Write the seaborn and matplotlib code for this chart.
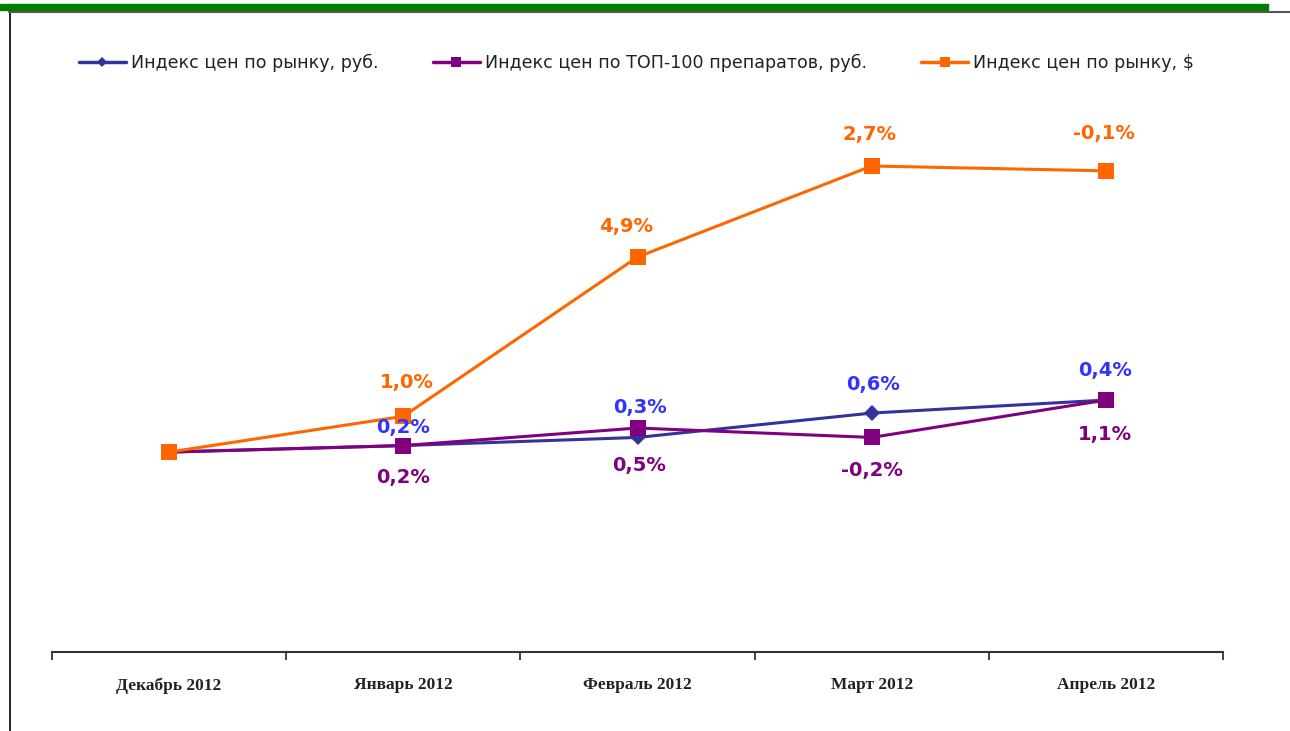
import matplotlib
matplotlib.use('Agg')
import matplotlib.pyplot as plt
import seaborn as sns
import pandas as pd
import numpy as np
from matplotlib.lines import Line2D
from matplotlib.patches import Rectangle

# months on the x axis
months = ['Декабрь 2012', 'Январь 2012', 'Февраль 2012', 'Март 2012', 'Апрель 2012']

# index level (Dec = 100)
market_rub = [100.0, 100.2, 100.45, 101.2, 101.6]
top100_rub = [100.0, 100.2, 100.74, 100.45, 101.6]
market_usd = [100.0, 101.1, 106.0, 108.8, 108.65]

# month-on-month change labels
market_rub_lbl = ['', '0,2%', '0,3%', '0,6%', '0,4%']
top100_rub_lbl = ['', '0,2%', '0,5%', '-0,2%', '1,1%']
market_usd_lbl = ['', '1,0%', '4,9%', '2,7%', '-0,1%']

names = ['Индекс цен по рынку, руб.',
         'Индекс цен по ТОП-100 препаратов, руб.',
         'Индекс цен по рынку, $']

sns.set_theme(style='white')
plt.rcParams['font.family'] = ['DejaVu Sans']

fig = plt.figure(figsize=(12.9, 7.31), dpi=100)
ax = fig.add_axes([52 / 1290, 1 - 652 / 731, (1223 - 52) / 1290, (652 - 100) / 731])

x = np.arange(len(months))
df = pd.DataFrame({'x': x, 'rub': market_rub, 'top': top100_rub, 'usd': market_usd})

line_blue = '#333399'
purple = '#800080'
orange = '#FF6600'

sns.lineplot(data=df, x='x', y='rub', ax=ax, color=line_blue, linewidth=2.2,
             marker='D', markersize=8, markeredgewidth=0)
sns.lineplot(data=df, x='x', y='top', ax=ax, color=purple, linewidth=2.2,
             marker='s', markersize=11, markeredgewidth=0)
sns.lineplot(data=df, x='x', y='usd', ax=ax, color=orange, linewidth=2.2,
             marker='s', markersize=12, markeredgewidth=0)

lbl_font = dict(fontsize=14, fontweight='bold', ha='center', va='center')

# label offsets in pixels (dx, dy)
usd_off = [(0, 0), (3, 34), (-11, 31), (-2, 31), (-2, 37)]
rub_off = [(0, 0), (0, 18), (2, 30), (1, 29), (-1, 30)]
top_off = [(0, 0), (0, -32), (2, -37), (0, -33), (-1, -34)]

for i in range(len(months)):
    if market_usd_lbl[i]:
        ax.annotate(market_usd_lbl[i], (x[i], market_usd[i]), xytext=usd_off[i],
                    textcoords='offset pixels', color=orange, **lbl_font)
    if market_rub_lbl[i]:
        ax.annotate(market_rub_lbl[i], (x[i], market_rub[i]), xytext=rub_off[i],
                    textcoords='offset pixels', color='#3333FF', **lbl_font)
    if top100_rub_lbl[i]:
        ax.annotate(top100_rub_lbl[i], (x[i], top100_rub[i]), xytext=top_off[i],
                    textcoords='offset pixels', color=purple, **lbl_font)

ax.set_xlim(-0.5, len(months) - 0.5)
ax.set_ylim(93.85, 110.83)
ax.set_xlabel('')
ax.set_ylabel('')
ax.set_yticks([])

ax.set_xticks(np.arange(-0.5, len(months)), [''] * (len(months) + 1))
ax.set_xticks(x, months, minor=True)
ax.tick_params(axis='x', which='major', length=6, width=1.3, color='#333333', direction='out', bottom=True)
ax.tick_params(axis='x', which='minor', length=0, pad=18)
for t in ax.get_xticklabels(minor=True):
    t.set_fontfamily('Liberation Serif')
    t.set_fontweight('bold')
    t.set_fontsize(12.5)
    t.set_color('#222222')

for s in ['left', 'right', 'top']:
    ax.spines[s].set_visible(False)
ax.spines['bottom'].set_color('#333333')
ax.spines['bottom'].set_linewidth(1.5)
ax.grid(False)

# legend
handles = [
    Line2D([], [], color=line_blue, lw=2.5, marker='D', markersize=5, markeredgewidth=0),
    Line2D([], [], color=purple, lw=2.5, marker='s', markersize=7, markeredgewidth=0),
    Line2D([], [], color=orange, lw=2.5, marker='s', markersize=7, markeredgewidth=0),
]
fig.legend(handles, names, loc='center left', bbox_to_anchor=(63 / 1290, 1 - 63 / 731),
           ncol=3, frameon=False, fontsize=12.6, handlelength=2.7, handletextpad=0.28,
           columnspacing=3.1, labelcolor='#222222')

# page frame: green bar on top, black left edge, grey top edge
fig.patches.append(Rectangle((0, 1 - 10 / 731), 1268 / 1290, 6 / 731,
                             transform=fig.transFigure, color='#008000', zorder=0))
fig.lines.append(Line2D([9.5 / 1290, 9.5 / 1290], [0, 1 - 11 / 731],
                        transform=fig.transFigure, color='black', lw=1.2))
fig.lines.append(Line2D([9 / 1290, 1], [1 - 11.5 / 731, 1 - 11.5 / 731],
                        transform=fig.transFigure, color='#555555', lw=1.5))

fig.savefig('out.png', dpi=100, facecolor='white')
